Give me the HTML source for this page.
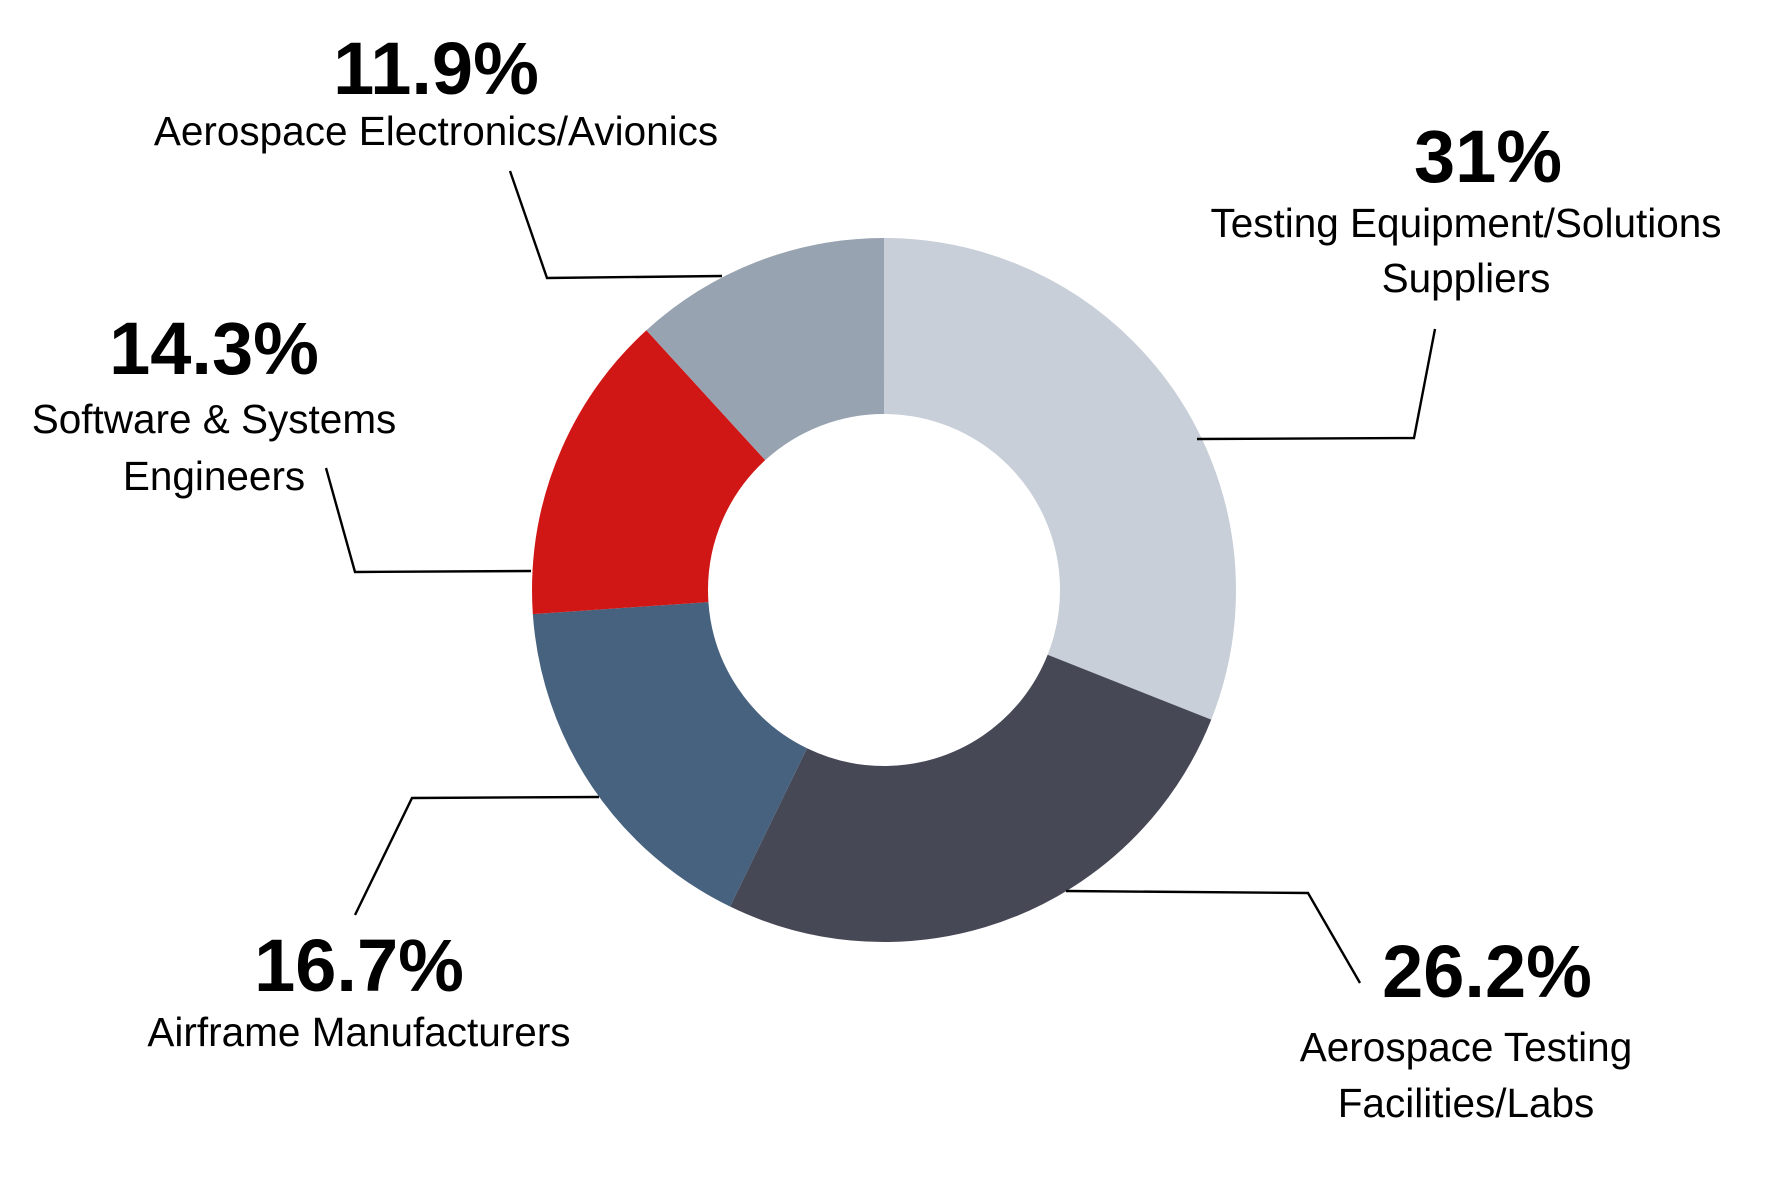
<!DOCTYPE html>
<html><head><meta charset="utf-8"><style>
html,body{margin:0;padding:0;background:#fff;}
svg{display:block;font-family:"Liberation Sans",Arial,sans-serif;}
.p{font-weight:bold;font-size:74px;fill:#000;text-anchor:middle;}
.l{font-size:40.5px;fill:#000;text-anchor:middle;}
</style></head><body>
<svg width="1772" height="1181" viewBox="0 0 1772 1181">
<g transform="translate(-5,-3)">
<g transform="rotate(-90 889 593)" fill="none" stroke-width="176">
<circle cx="889" cy="593" r="264" stroke="#c8cfd8" stroke-dasharray="514.2 2000" stroke-dashoffset="0"/>
<circle cx="889" cy="593" r="264" stroke="#464855" stroke-dasharray="434.6 2000" stroke-dashoffset="-514.2"/>
<circle cx="889" cy="593" r="264" stroke="#47627f" stroke-dasharray="277.0 2000" stroke-dashoffset="-948.8"/>
<circle cx="889" cy="593" r="264" stroke="#d01716" stroke-dasharray="237.2 2000" stroke-dashoffset="-1225.8"/>
<circle cx="889" cy="593" r="264" stroke="#97a3b1" stroke-dasharray="200 2000" stroke-dashoffset="-1463.0"/>
</g>
<g fill="none" stroke="#000" stroke-width="2.4">
<polyline points="515,174 552,281 727,279"/>
<polyline points="1440,332 1419,441 1202,442"/>
<polyline points="331,471 360,575 536,574"/>
<polyline points="360,918 417,801 604,800"/>
<polyline points="1365,986 1313,896 1071,894"/>
</g>
</g>
<g transform="translate(0,-3)">
<text class="p" x="436" y="97">11.9%</text>
<text class="l" x="436" y="148">Aerospace Electronics/Avionics</text>
<text class="p" x="1488" y="185">31%</text>
<text class="l" x="1466" y="240">Testing Equipment/Solutions</text>
<text class="l" x="1466" y="295">Suppliers</text>
<text class="p" x="214" y="377">14.3%</text>
<text class="l" x="214" y="436">Software &amp; Systems</text>
<text class="l" x="214" y="493">Engineers</text>
<text class="p" x="359" y="994">16.7%</text>
<text class="l" x="359" y="1049">Airframe Manufacturers</text>
<text class="p" x="1487" y="1000">26.2%</text>
<text class="l" x="1466" y="1064">Aerospace Testing</text>
<text class="l" x="1466" y="1120">Facilities/Labs</text>
</g>
</svg>
</body></html>
